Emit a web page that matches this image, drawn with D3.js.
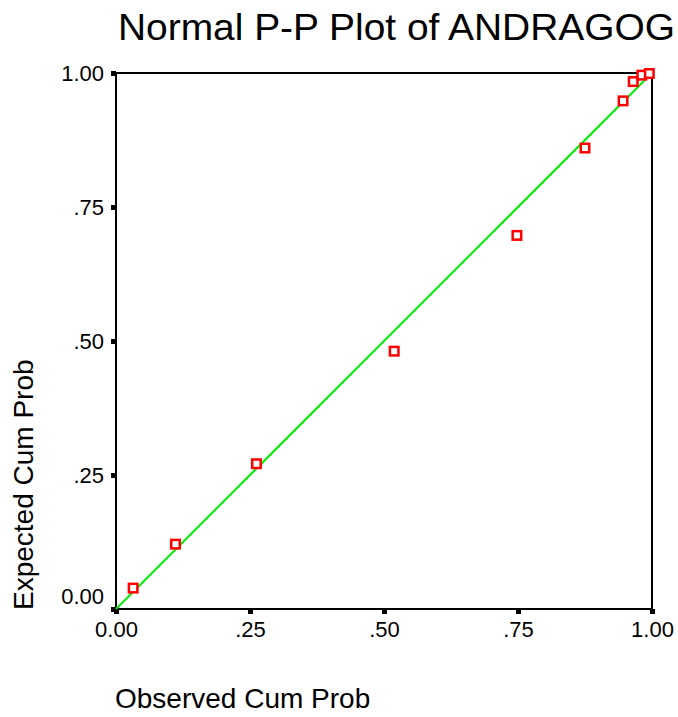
<!DOCTYPE html>
<html>
<head>
<meta charset="utf-8">
<script src="https://cdn.jsdelivr.net/npm/d3@7/dist/d3.min.js"></script>
<style>
  html, body { margin: 0; padding: 0; background: #fff; }
  svg { display: block; }
  text { font-family: "Liberation Sans", Arial, sans-serif; fill: #000; }
</style>
</head>
<body>
<svg id="chart" width="678" height="717"></svg>
<script>
const observedCumProb = [0.032, 0.111, 0.262, 0.519, 0.748, 0.875, 0.946, 0.965, 0.981, 0.995];
const expectedCumProb = [0.039, 0.121, 0.271, 0.481, 0.697, 0.860, 0.948, 0.984, 0.996, 0.999];
const tickValues = [0, 0.25, 0.5, 0.75, 1];
const tickLabels = ["0.00", ".25", ".50", ".75", "1.00"];
const titleText = "Normal P-P Plot of ANDRAGOG";
const xLabelText = "Observed Cum Prob";
const yLabelText = "Expected Cum Prob";

(function () {
const svg = d3.select("#chart");
const pLeft = 116, pRight = 652, pTop = 73, pBottom = 609;

const x = d3.scaleLinear().domain([0, 1]).range([pLeft, pRight]);
const y = d3.scaleLinear().domain([0, 1]).range([pBottom, pTop]);

// Title
svg.append("text")
  .attr("x", 118).attr("y", 40)
  .attr("font-size", 37)
  .attr("textLength", 557)
  .attr("lengthAdjust", "spacingAndGlyphs")
  .text(titleText);

// Frame
svg.append("rect")
  .attr("x", pLeft).attr("y", pTop)
  .attr("width", pRight - pLeft).attr("height", pBottom - pTop)
  .attr("fill", "none").attr("stroke", "#000").attr("stroke-width", 2);

// Y axis ticks
const yAxis = d3.axisLeft(y).tickValues(tickValues)
  .tickFormat((d, i) => tickLabels[i]).tickSize(0).tickPadding(12);
const gy = svg.append("g").attr("transform", `translate(${pLeft},0)`).call(yAxis);
gy.select(".domain").remove();
gy.selectAll(".tick text")
  .attr("font-size", 22)
  .attr("font-family", "Liberation Sans, Arial, sans-serif")
  .attr("fill", "#000")
  .attr("dy", d => d === 0 ? "-0.25em" : "0.32em");
gy.selectAll(".tick").append("rect")
  .attr("x", -5).attr("y", -2.5).attr("width", 5).attr("height", 5)
  .attr("fill", "#000");

// X axis ticks
const xAxis = d3.axisBottom(x).tickValues(tickValues)
  .tickFormat((d, i) => tickLabels[i]).tickSize(0).tickPadding(12);
const gx = svg.append("g").attr("transform", `translate(0,${pBottom})`).call(xAxis);
gx.select(".domain").remove();
gx.selectAll(".tick text")
  .attr("font-size", 22)
  .attr("font-family", "Liberation Sans, Arial, sans-serif")
  .attr("fill", "#000");
gx.selectAll(".tick").append("rect")
  .attr("x", -2.5).attr("y", 0).attr("width", 5).attr("height", 5)
  .attr("fill", "#000");

// Reference line
svg.append("line")
  .attr("x1", x(0)).attr("y1", y(0))
  .attr("x2", x(1)).attr("y2", y(1))
  .attr("stroke", "#00f000").attr("stroke-width", 2);

// Points
const data = observedCumProb.map((p, i) => ({ p, q: expectedCumProb[i] }));
svg.append("g").selectAll("rect")
  .data(data).enter().append("rect")
  .attr("x", d => x(d.p) - 4.25)
  .attr("y", d => y(d.q) - 4.25)
  .attr("width", 8.5).attr("height", 8.5)
  .attr("fill", "#fff").attr("stroke", "#ff0000").attr("stroke-width", 2.5);

// Axis labels
svg.append("text")
  .attr("x", 115).attr("y", 708)
  .attr("font-size", 28)
  .text(xLabelText);

svg.append("text")
  .attr("transform", "translate(33,610) rotate(-90)")
  .attr("font-size", 28)
  .text(yLabelText);
})();
</script>
</body>
</html>
